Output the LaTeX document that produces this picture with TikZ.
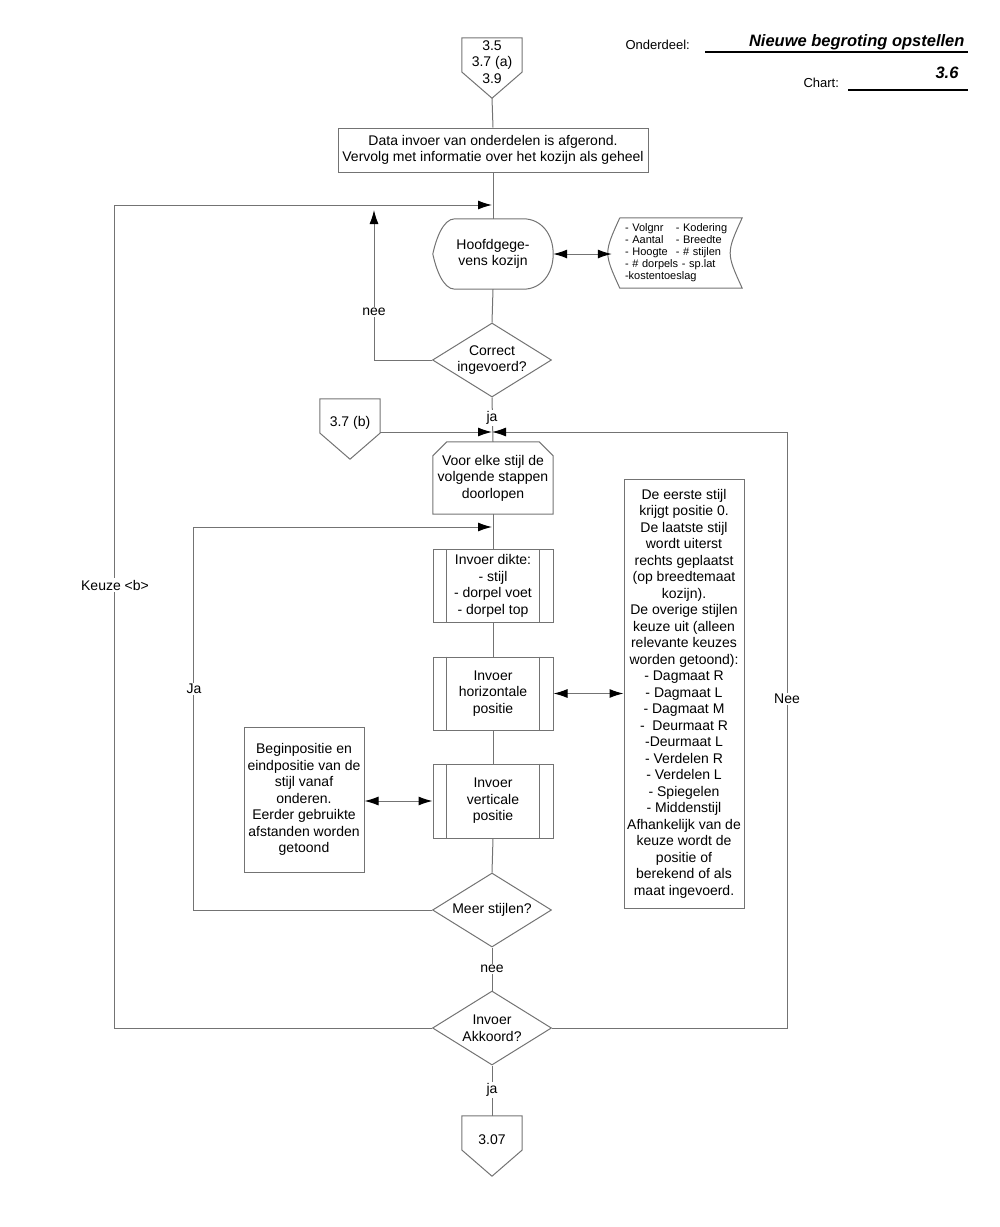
\documentclass[tikz,border=0pt]{standalone}
\usepackage{fontspec}
\setmainfont{Liberation Sans}
\usetikzlibrary{shapes.geometric, arrows.meta}

\definecolor{linegray}{gray}{0.45}

\tikzset{
  every node/.style={font=\fontsize{14}{16.5}\selectfont},
  flow/.style={draw=linegray, line width=1pt},
  >={Latex[length=14pt, width=9pt, color=black]},
  stepbox/.style={draw=linegray, line width=1pt, align=center, inner sep=0pt},
  procbox/.style={stepbox, minimum width=120pt, minimum height=73pt,
    append after command={\pgfextra{\let\pn\tikzlastnode
      \draw[flow] ([xshift=14pt]\pn.north west) -- ([xshift=14pt]\pn.south west);
      \draw[flow] ([xshift=-14pt]\pn.north east) -- ([xshift=-14pt]\pn.south east);}}},
  decision/.style={shape=diamond, draw=linegray, line width=1pt, align=center,
    minimum width=119pt, minimum height=74pt, inner sep=-8pt},
  offpage/.style={align=center, inner sep=0pt, minimum width=60pt, minimum height=48pt,
    append after command={\pgfextra{\let\pn\tikzlastnode
      \draw[flow] (\pn.north west) -- (\pn.north east) -- ([yshift=-10pt]\pn.east)
        -- ([yshift=-12pt]\pn.south) -- ([yshift=-10pt]\pn.west) -- cycle;}}},
  display/.style={align=center, inner sep=0pt, minimum width=120pt, minimum height=70pt,
    append after command={\pgfextra{\let\pn\tikzlastnode
      \draw[flow] ([xshift=22pt]\pn.north west) -- ([xshift=-30pt]\pn.north east)
        .. controls ([xshift=-12pt]\pn.north east) and ([yshift=20pt]\pn.east) .. (\pn.east)
        .. controls ([yshift=-20pt]\pn.east) and ([xshift=-12pt]\pn.south east) .. ([xshift=-30pt]\pn.south east)
        -- ([xshift=22pt]\pn.south west)
        .. controls ([xshift=10pt]\pn.south west) and ([xshift=3pt,yshift=-14pt]\pn.west) .. (\pn.west)
        .. controls ([xshift=3pt,yshift=14pt]\pn.west) and ([xshift=10pt]\pn.north west) .. ([xshift=22pt]\pn.north west);}}},
  storeddata/.style={inner sep=0pt, minimum width=130pt, minimum height=70pt,
    text width=104pt, align=left, font=\fontsize{11}{12}\selectfont,
    append after command={\pgfextra{\let\pn\tikzlastnode
      \draw[flow] ([xshift=8pt]\pn.north west) -- (\pn.north east)
        .. controls ([xshift=-16pt]\pn.east) .. (\pn.south east)
        -- ([xshift=8pt]\pn.south west)
        .. controls ([xshift=-8pt]\pn.west) .. ([xshift=8pt]\pn.north west);}}},
  loopbox/.style={align=center, inner sep=0pt, minimum width=120pt, minimum height=72pt,
    append after command={\pgfextra{\let\pn\tikzlastnode
      \draw[flow] ([xshift=14pt]\pn.north west) -- ([xshift=-14pt]\pn.north east)
        -- ([yshift=-14pt]\pn.north east) -- (\pn.south east) -- (\pn.south west)
        -- ([yshift=-14pt]\pn.north west) -- cycle;}}},
  flowlabel/.style={fill=white, inner sep=1.5pt},
  headtext/.style={font=\fontsize{13}{15}\selectfont},
  titletext/.style={font=\fontsize{16.5}{19}\selectfont\bfseries\itshape},
  headline/.style={draw=black, line width=1.2pt}
}

\begin{document}
\begin{tikzpicture}[x=1pt, y=-1pt]
\useasboundingbox (0,0) rectangle (1000,1227);

\pgfmathsetmacro\x{492}

% header
\node[headtext, anchor=base west] (onderdeel_label) at (622,49) {Onderdeel:};
\node[titletext, anchor=base east] (title_text) at (968,46) {Nieuwe begroting opstellen};
\draw[headline] (705,52) -- (968,52);
\node[headtext, anchor=base west] (chart_label) at (800,87) {Chart:};
\node[titletext, anchor=base east] (chart_text) at (962,78) {3.6};
\draw[headline] (848,90) -- (968,90);

% plot the first part
\node[offpage] (top_conn) at (\x,62) {3.5\\3.7 (a)\\3.9};
\node[stepbox, minimum width=310pt, minimum height=44pt] (afgerond) at (\x+1,150)
  {Data invoer van onderdelen is afgerond.\\Vervolg met informatie over het kozijn als geheel};
\draw[flow] ([yshift=-12pt]top_conn.south) -- (afgerond.north);

\node[display] (hoofd) at (\x+1,254) {Hoofdgege-\\vens kozijn};
\node[storeddata] (gegevens) at (677,253) {\begin{tabular}{@{}l@{\hspace{8pt}}l@{}}
  - Volgnr & - Kodering\\
  - Aantal & - Breedte\\
  - Hoogte & - \# stijlen\\
  \multicolumn{2}{@{}l@{}}{- \# dorpels - sp.lat}\\
  \multicolumn{2}{@{}l@{}}{-kostentoeslag}
  \end{tabular}};
\coordinate (loop_top) at (\x,205);
\draw[flow] (afgerond.south) -- (hoofd.north);
\draw[flow, <->] (hoofd.east) -- (hoofd.east -| gegevens.west);

\node[decision] (correct) at (\x,360) {Correct\\ingevoerd?};
\draw[flow] (hoofd.south) -- (correct.north);
\coordinate (nee_end) at (374,210);
\draw[flow, ->] (correct.west) -| (nee_end);
\node[flowlabel] (nee_label) at (374,312) {nee};

% plot the loop over the stijlen
\node[offpage] (conn_b) at (350,423) {3.7 (b)};
\node[loopbox] (voor_elke) at (\x+1,478) {Voor elke stijl de\\volgende stappen\\doorlopen};
\coordinate (ja_entry) at (\x,432);
\draw[flow] (correct.south) -- (voor_elke.north);
\node[flowlabel] (ja_label) at (\x,418) {ja};
\draw[flow, ->] ([yshift=-9pt]conn_b.east) -- (ja_entry);

\node[procbox] (dikte) at (\x+1,586) {Invoer dikte:\\- stijl\\- dorpel voet\\- dorpel top};
\node[procbox] (horizontaal) at (\x+1,693.5) {Invoer\\horizontale\\positie};
\node[procbox, minimum height=74pt] (verticaal) at (\x+1,801) {Invoer\\verticale\\positie};
\coordinate (ja_loop_end) at (\x,527);
\draw[flow] (voor_elke.south) -- (dikte.north);
\draw[flow] (dikte.south) -- (horizontaal.north);
\draw[flow] (horizontaal.south) -- (verticaal.north);

\node[stepbox, minimum width=120pt, minimum height=429pt] (keuze_info) at (684,693.5)
  {De eerste stijl\\krijgt positie 0.\\De laatste stijl\\wordt uiterst\\rechts geplaatst\\(op breedtemaat\\kozijn).\\De overige stijlen\\keuze uit (alleen\\relevante keuzes\\worden getoond):\\- Dagmaat R\\- Dagmaat L\\- Dagmaat M\\-\ \ Deurmaat R\\-Deurmaat L\\- Verdelen R\\- Verdelen L\\- Spiegelen\\- Middenstijl\\Afhankelijk van de\\keuze wordt de\\positie of\\berekend of als\\maat ingevoerd.};
\draw[flow, <->] (horizontaal.east) -- (horizontaal.east -| keuze_info.west);

\node[stepbox, minimum width=120pt, minimum height=145pt] (begin_info) at (304,799.5)
  {Beginpositie en\\eindpositie van de\\stijl vanaf\\onderen.\\Eerder gebruikte\\afstanden worden\\getoond};
\draw[flow, <->] (verticaal.west -| begin_info.east) -- (verticaal.west);

\node[decision] (meer) at (\x,910) {Meer stijlen?};
\draw[flow] (verticaal.south) -- (meer.north);
\draw[flow, ->] (meer.west) -- ++(-239,0) |- (ja_loop_end);
\node[flowlabel] (ja_loop_label) at (194,689) {Ja};

% plot the end
\node[decision] (akkoord) at (\x,1028) {Invoer\\Akkoord?};
\draw[flow] (meer.south) -- (akkoord.north);
\node[flowlabel] (nee_meer_label) at (\x,969) {nee};
\draw[flow, ->] (akkoord.west) -- ++(-318,0) |- (loop_top);
\node[flowlabel] (keuze_label) at (115,585) {Keuze <b>};
\draw[flow, ->] (akkoord.east) -- ++(235,0) |- (ja_entry);
\node[flowlabel] (nee_label_right) at (787,699) {Nee};

\node[offpage] (conn_end) at (\x,1140) {3.07};
\draw[flow] (akkoord.south) -- (conn_end.north);
\node[flowlabel] (ja_end_label) at (\x,1090) {ja};

\end{tikzpicture}
\end{document}
